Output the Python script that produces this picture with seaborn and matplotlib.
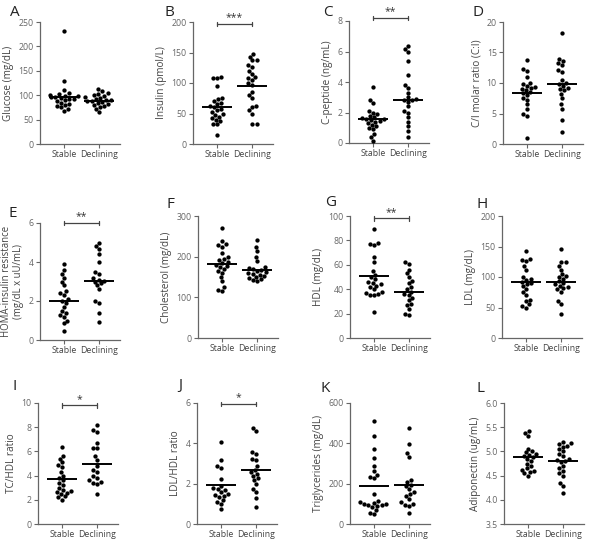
import numpy as np
import pandas as pd
import matplotlib
matplotlib.use("Agg")
import matplotlib.pyplot as plt
import seaborn as sns

groups = ["Stable", "Declining"]

glucose_stable = [232, 129, 110, 105, 103, 100, 99, 98, 97, 96, 95, 93, 92, 90, 88, 85, 82, 80, 78, 75, 72, 68]
glucose_declining = [112, 108, 104, 102, 100, 98, 96, 94, 92, 91, 90, 89, 88, 86, 84, 82, 80, 78, 76, 72, 66]
insulin_stable = [110, 109, 108, 95, 75, 73, 70, 68, 65, 62, 60, 58, 55, 52, 50, 48, 45, 42, 40, 37, 33, 32, 15]
insulin_declining = [147, 143, 138, 137, 130, 127, 120, 115, 110, 108, 105, 100, 97, 85, 80, 75, 62, 60, 55, 50, 33, 32]
cpep_stable = [3.7, 2.8, 2.6, 2.1, 2.0, 1.9, 1.8, 1.7, 1.65, 1.6, 1.55, 1.5, 1.45, 1.4, 1.3, 1.2, 1.1, 1.0, 0.9, 0.6, 0.4, 0.15]
cpep_declining = [6.35, 6.15, 5.95, 5.35, 4.45, 3.8, 3.6, 3.3, 3.0, 2.9, 2.85, 2.8, 2.7, 2.4, 2.1, 2.0, 1.7, 1.4, 1.1, 0.8, 0.4]
ci_stable = [13.8, 12.3, 12.0, 11.0, 10.0, 9.8, 9.5, 9.3, 9.2, 9.0, 8.8, 8.5, 8.3, 8.0, 7.5, 7.2, 6.5, 5.8, 5.0, 4.6, 1.0]
ci_declining = [18.2, 14.0, 13.6, 13.3, 12.9, 12.2, 11.8, 10.5, 10.0, 9.8, 9.5, 9.2, 9.0, 8.8, 8.2, 7.5, 6.5, 5.8, 3.9, 1.9]
homa_stable = [3.9, 3.6, 3.4, 3.2, 3.0, 2.8, 2.5, 2.4, 2.3, 2.1, 2.0, 1.9, 1.7, 1.5, 1.4, 1.3, 1.2, 1.0, 0.85, 0.45]
homa_declining = [4.95, 4.8, 4.65, 4.4, 4.0, 3.5, 3.4, 3.2, 3.1, 3.05, 3.0, 2.9, 2.8, 2.6, 2.0, 1.9, 1.4, 0.9]
chol_stable = [270, 238, 230, 228, 225, 210, 200, 195, 192, 188, 185, 180, 178, 175, 170, 165, 160, 150, 140, 125, 118, 115]
chol_declining = [240, 225, 215, 200, 190, 175, 172, 170, 168, 165, 162, 160, 158, 155, 153, 150, 148, 145, 142, 140]
hdl_stable = [89, 78, 77, 76, 66, 62, 55, 52, 50, 48, 46, 45, 44, 43, 42, 40, 38, 37, 36, 35, 35, 21]
hdl_declining = [62, 61, 56, 53, 50, 47, 45, 42, 40, 38, 36, 35, 33, 31, 28, 27, 24, 20, 19]
ldl_stable = [142, 130, 128, 126, 118, 112, 100, 97, 95, 92, 90, 88, 85, 80, 75, 70, 62, 60, 55, 52, 50]
ldl_declining = [146, 125, 124, 118, 112, 105, 102, 100, 97, 93, 90, 88, 86, 84, 82, 80, 76, 60, 55, 40]
tchdl_stable = [6.4, 5.6, 5.4, 5.1, 4.9, 4.7, 4.3, 4.0, 3.8, 3.6, 3.4, 3.2, 3.0, 2.8, 2.7, 2.65, 2.6, 2.5, 2.3, 2.2, 2.0]
tchdl_declining = [8.2, 7.8, 7.6, 6.7, 6.3, 6.25, 5.6, 5.3, 4.8, 4.5, 4.3, 4.0, 3.8, 3.6, 3.5, 3.4, 3.3, 2.5]
ldlhdl_stable = [4.05, 3.15, 2.9, 2.8, 2.25, 1.9, 1.8, 1.75, 1.7, 1.6, 1.5, 1.45, 1.4, 1.35, 1.2, 1.1, 1.0, 0.75]
ldlhdl_declining = [4.75, 4.6, 3.55, 3.45, 3.2, 3.15, 2.9, 2.7, 2.6, 2.5, 2.4, 2.3, 2.2, 2.0, 1.75, 1.6, 1.3, 0.85]
tg_stable = [510, 435, 370, 325, 290, 265, 245, 235, 230, 150, 115, 110, 105, 100, 98, 95, 92, 90, 85, 70, 55, 50]
tg_declining = [475, 395, 350, 330, 220, 210, 195, 190, 175, 160, 150, 140, 125, 110, 100, 95, 90, 55]
adipo_stable = [5.42, 5.38, 5.32, 5.05, 5.0, 4.98, 4.95, 4.93, 4.9, 4.88, 4.85, 4.8, 4.75, 4.7, 4.65, 4.62, 4.6, 4.58, 4.55, 4.5]
adipo_declining = [5.2, 5.18, 5.15, 5.12, 5.1, 5.05, 5.0, 4.95, 4.9, 4.85, 4.82, 4.8, 4.78, 4.7, 4.65, 4.6, 4.55, 4.5, 4.35, 4.28, 4.15]

panel_letters = ["A", "B", "C", "D", "E", "F", "G", "H", "I", "J", "K", "L"]
y_labels = ["Glucose (mg/dL)", "Insulin (pmol/L)", "C-peptide (ng/mL)", "C/I molar ratio (C:I)",
            "HOMA-insulin resistance\n(mg/dL x uU/mL)", "Cholesterol (mg/dL)", "HDL (mg/dL)", "LDL (mg/dL)",
            "TC/HDL ratio", "LDL/HDL ratio", "Triglycerides (mg/dL)", "Adiponectin (ug/mL)"]
stable_values = [glucose_stable, insulin_stable, cpep_stable, ci_stable, homa_stable, chol_stable,
                 hdl_stable, ldl_stable, tchdl_stable, ldlhdl_stable, tg_stable, adipo_stable]
declining_values = [glucose_declining, insulin_declining, cpep_declining, ci_declining, homa_declining,
                    chol_declining, hdl_declining, ldl_declining, tchdl_declining, ldlhdl_declining,
                    tg_declining, adipo_declining]
means_stable = [96, 60, 1.55, 8.4, 2.0, 183, 50.5, 92, 3.75, 1.92, 190, 4.89]
means_declining = [89, 95, 2.82, 9.8, 3.05, 168, 37.5, 92, 5.0, 2.67, 193, 4.81]
y_limits = [(0, 250), (0, 200), (0, 8), (0, 20), (0, 6), (0, 300), (0, 100), (0, 200),
            (0, 10), (0, 6), (0, 600), (3.5, 6.0)]
y_ticks = [[0, 50, 100, 150, 200, 250], [0, 50, 100, 150, 200], [0, 2, 4, 6, 8], [0, 5, 10, 15, 20],
           [0, 2, 4, 6], [0, 100, 200, 300], [0, 20, 40, 60, 80, 100], [0, 50, 100, 150, 200],
           [0, 2, 4, 6, 8, 10], [0, 2, 4, 6], [0, 200, 400, 600], [3.5, 4.0, 4.5, 5.0, 5.5, 6.0]]
tick_fmt = ["{:g}"] * 11 + ["{:.1f}"]
sig_stars = [None, "***", "**", None, "**", None, "**", None, "*", "*", None, None]
sig_heights = [None, 197, 8.2, None, 6.0, None, 98, None, 9.8, 5.95, None, None]

# layout in pixels: (spine x, top y, bottom y)
W, H = 600, 546
boxes = [(40, 22, 144), (193, 22, 144), (349, 21, 143), (503, 22, 144),
         (40, 223, 340), (198, 216, 338), (350, 216, 338), (502, 216, 338),
         (38, 403, 524), (197, 403, 524), (350, 403, 524), (504, 403, 524)]
letter_pos = [(10, 12), (165, 12), (323, 12), (473, 12),
              (8, 214), (166, 205), (325, 203), (477, 205),
              (13, 386), (178, 386), (320, 388), (477, 388)]

sns.set_style("ticks")
plt.rcParams["font.family"] = ["Open Sans", "DejaVu Sans"]

fig = plt.figure(figsize=(W / 100, H / 100), dpi=100)
gray = "#666666"
axw = 80

for i in range(12):
    x0, yt, yb = boxes[i]
    ax = fig.add_axes([x0 / W, 1 - yb / H, axw / W, (yb - yt) / H])
    df = pd.DataFrame({
        "group": ["Stable"] * len(stable_values[i]) + ["Declining"] * len(declining_values[i]),
        "value": list(stable_values[i]) + list(declining_values[i]),
    })
    sns.swarmplot(data=df, x="group", y="value", order=groups, color="black",
                  size=3.1, ax=ax, clip_on=False)
    ax.hlines([means_stable[i], means_declining[i]], [-0.42, 0.58], [0.42, 1.42],
              color="black", lw=1.4, zorder=5)
    ax.set_xlim(-0.69, 1.6)
    ax.set_ylim(*y_limits[i])
    ax.set_yticks(y_ticks[i])
    ax.set_yticklabels([tick_fmt[i].format(t) for t in y_ticks[i]])
    ax.set_xlabel("")
    ylfs = 6.9 if i == 4 else 7.2
    ax.set_ylabel(y_labels[i], fontsize=ylfs, color="#444444", labelpad=3,
                  linespacing=1.15)
    ax.tick_params(axis="both", labelsize=6.3, colors=gray, length=3, width=0.8, pad=1.5)
    ax.tick_params(axis="x", labelcolor="#444444")
    ax.tick_params(axis="y", labelcolor=gray)
    for s in ["top", "right"]:
        ax.spines[s].set_visible(False)
    for s in ["left", "bottom"]:
        ax.spines[s].set_color(gray)
        ax.spines[s].set_linewidth(0.9)
    if sig_stars[i]:
        yb_ = sig_heights[i]
        lo, hi = y_limits[i]
        d = (hi - lo) * 0.018
        ax.plot([0, 1], [yb_, yb_], color="#444444", lw=0.9, clip_on=False)
        ax.plot([0, 0], [yb_ - d, yb_ + d], color="#444444", lw=0.9, clip_on=False)
        ax.plot([1, 1], [yb_ - d, yb_ + d], color="#444444", lw=0.9, clip_on=False)
        ax.text(0.5, yb_ + d * 0.2, sig_stars[i], ha="center", va="bottom", fontsize=7.5,
                color="#333333", clip_on=False)
    lx, ly = letter_pos[i]
    fig.text(lx / W, 1 - ly / H, panel_letters[i], fontsize=11, va="center", ha="left",
             color="#222222")

fig.savefig("out.png", dpi=100, facecolor="white")
